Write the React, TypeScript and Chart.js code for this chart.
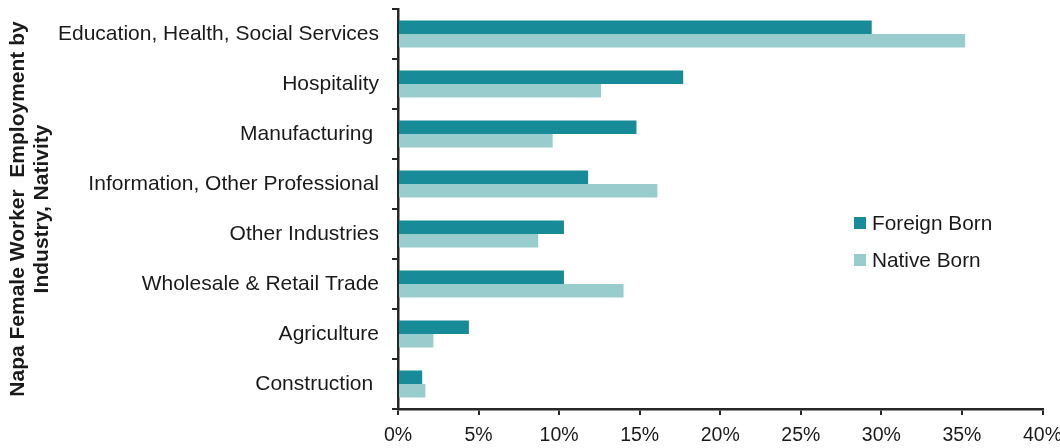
import React, { useEffect, useRef } from "react";
import { Chart, registerables } from "chart.js";

Chart.register(...registerables);

const categories = [
  "Education, Health, Social Services",
  "Hospitality",
  "Manufacturing ",
  "Information, Other Professional",
  "Other Industries",
  "Wholesale & Retail Trade",
  "Agriculture",
  "Construction ",
];
const foreignBorn = [29.4, 17.7, 14.8, 11.8, 10.3, 10.3, 4.4, 1.5];
const nativeBorn = [35.2, 12.6, 9.6, 16.1, 8.7, 14.0, 2.2, 1.7];
const seriesLabels = ["Foreign Born", "Native Born"];
const seriesColors = ["#178B98", "#99CDCD"];
const axisTitleLines = ["Napa Female Worker  Employment by", "Industry, Nativity"];
const xMin = 0;
const xMax = 40;
const xStep = 5;

const FONT = '"Liberation Sans", Arial, sans-serif';
const TEXT = "#1a1a1a";
const AXIS = "#262626";

const legendPlugin = {
  id: "insideLegend",
  afterDraw(chart: any) {
    const { ctx, chartArea } = chart;
    const w = chartArea.right - chartArea.left;
    const h = chartArea.bottom - chartArea.top;
    const x0 = chartArea.left + w * 0.7075;
    const rows = [0.535, 0.6275];
    ctx.save();
    ctx.font = `20.8px ${FONT}`;
    ctx.textBaseline = "middle";
    ctx.textAlign = "left";
    chart.data.datasets.forEach((ds: any, i: number) => {
      const cy = chartArea.top + h * rows[i];
      ctx.fillStyle = ds.backgroundColor;
      ctx.fillRect(x0, cy - 6, 12, 12);
      ctx.fillStyle = TEXT;
      ctx.fillText(ds.label, x0 + 18, cy + 1);
    });
    ctx.restore();
  },
};

export default function App() {
  const ref = useRef<HTMLCanvasElement | null>(null);

  useEffect(() => {
    document.body.style.margin = "0";
    if (!ref.current) return;
    const chart = new Chart(ref.current, {
      type: "bar",
      data: {
        labels: categories,
        datasets: [
          {
            label: seriesLabels[0],
            data: foreignBorn,
            backgroundColor: seriesColors[0],
            categoryPercentage: 0.54,
            barPercentage: 1,
          },
          {
            label: seriesLabels[1],
            data: nativeBorn,
            backgroundColor: seriesColors[1],
            categoryPercentage: 0.54,
            barPercentage: 1,
          },
        ],
      },
      options: {
        indexAxis: "y",
        responsive: false,
        animation: false,
        devicePixelRatio: 1,
        layout: { padding: { top: 9, right: 17.5, left: 0, bottom: 0 } },
        plugins: {
          legend: { display: false },
          tooltip: { enabled: false },
        },
        scales: {
          x: {
            min: xMin,
            max: xMax,
            ticks: {
              stepSize: xStep,
              padding: 9,
              color: TEXT,
              font: { family: FONT, size: 19.5 },
              callback: (v: any) => `${v}%`,
              maxRotation: 0,
            },
            grid: {
              display: true,
              drawOnChartArea: false,
              drawTicks: true,
              tickLength: 6,
              color: AXIS,
              lineWidth: 2,
            },
            border: { display: true, color: AXIS, width: 2.5 },
            afterFit: (s: any) => {
              s.height = 39;
              s.paddingLeft = 0;
              s.paddingRight = 17.5;
            },
          },
          y: {
            ticks: {
              padding: 13,
              color: TEXT,
              font: { family: FONT, size: 21 },
            },
            grid: {
              display: true,
              drawOnChartArea: false,
              drawTicks: true,
              tickLength: 6,
              color: AXIS,
              lineWidth: 2,
              offset: true,
            },
            border: { display: true, color: AXIS, width: 2.5 },
            title: {
              display: true,
              text: axisTitleLines,
              color: TEXT,
              font: { family: FONT, size: 21, weight: "bold", lineHeight: 1.17 },
              padding: { top: 5.75, bottom: 4 },
            },
            afterFit: (s: any) => {
              s.width = 398;
              s.paddingTop = 0;
              s.paddingBottom = 0;
            },
          },
        },
      },
      plugins: [legendPlugin],
    });
    return () => chart.destroy();
  }, []);

  return (
    <div style={{ width: 1060, height: 448, background: "#fff" }}>
      <canvas ref={ref} width={1060} height={448} style={{ display: "block" }} />
    </div>
  );
}
